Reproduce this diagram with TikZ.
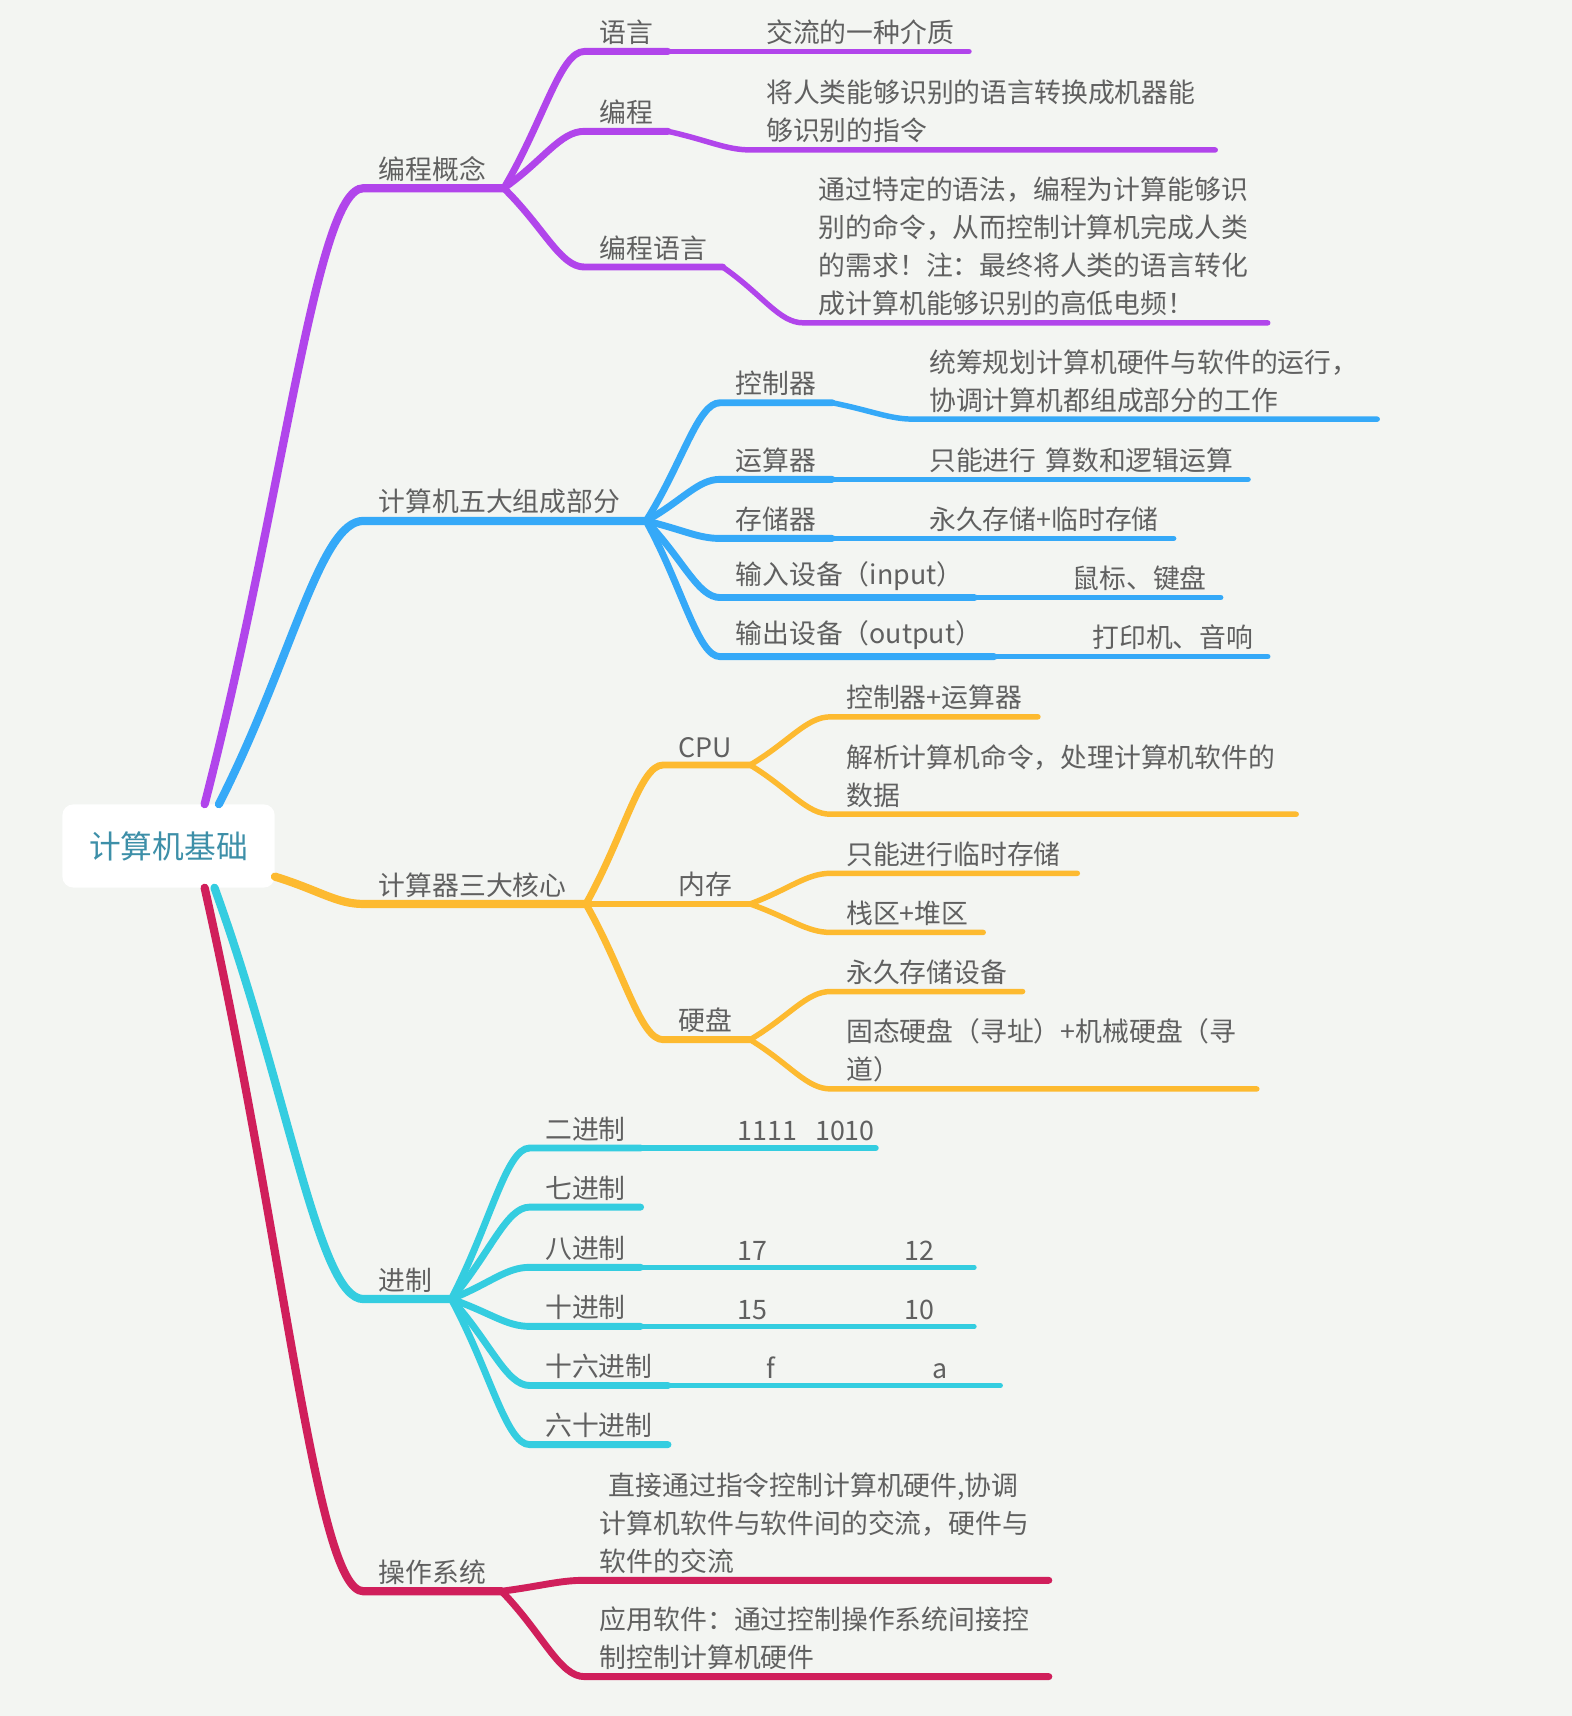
\documentclass[tikz,border=0pt]{standalone}
\usepackage{fontspec}
\setmainfont{Noto Sans CJK SC}
\usepackage{tikz}
\usepackage{xcolor}
\usetikzlibrary{positioning, calc}

\definecolor{bgcol}{HTML}{F3F5F2}
\definecolor{txtgray}{HTML}{606060}
\definecolor{rootteal}{HTML}{3D8FA8}
\definecolor{cpurple}{HTML}{B145EB}
\definecolor{cblue}{HTML}{35A9F8}
\definecolor{corange}{HTML}{FDBA30}
\definecolor{ccyan}{HTML}{34CDE0}
\definecolor{cred}{HTML}{D01F5B}

\tikzset{
    root/.style={fill=white, rounded corners=10pt, minimum width=194pt, minimum height=76pt, inner sep=0pt, text=rootteal, font=\fontsize{29pt}{29pt}\selectfont},
    topic/.style={anchor=south west, inner xsep=14pt, inner ysep=6pt, align=left, text=txtgray, text width=#1, font=\fontsize{24.5pt}{34.7pt}\selectfont},
    lv1/.style={line width=7.5pt, line cap=round},
    lv2/.style={line width=6.3pt, line cap=round},
    lv3/.style={line width=5pt, line cap=round},
    lv4/.style={line width=4pt, line cap=round},
    link/.style={to path={.. controls ($(\tikztostart)!0.5!(\tikztotarget)$) and ($(\tikztotarget)!0.3!(\tikztostart|-\tikztotarget)$) .. (\tikztotarget) \tikztonodes}}
}

\begin{document}
\begin{tikzpicture}[x=1pt, y=-1pt]
            \useasboundingbox (0,0) rectangle (1436,1568);
            \fill[bgcol] (0,0) rectangle (1436,1568);

            % root
            \node[root] (root) at (154,773) {计算机基础};

            % 编程概念
            \node[topic=100pt] (gc) at (332,172) {编程概念};
            \node[topic=48pt] (yy) at (534,47) {语言};
            \node[topic=48pt] (bc) at (534,120) {编程};
            \node[topic=98pt] (bcyy) at (534,244) {编程语言};
            \node[topic=171pt] (yy1) at (686,47) {交流的一种介质};
            \node[topic=396pt] (bc1) at (686,137) {将人类能够识别的语言转换成机器能\\够识别的指令};
            \node[topic=396pt] (bcyy1) at (734,295) {通过特定的语法，编程为计算能够识\\别的命令，从而控制计算机完成人类\\的需求！注：最终将人类的语言转化\\成计算机能够识别的高低电频！};

            % 计算机五大组成部分
            \node[topic=230pt] (wd) at (332,476) {计算机五大组成部分};
            \node[topic=74pt] (kzq) at (658,368) {控制器};
            \node[topic=74pt] (ysq) at (658,438) {运算器};
            \node[topic=74pt] (ccq) at (658,492) {存储器};
            \node[topic=204pt] (sr) at (658,546) {输入设备（input）};
            \node[topic=222pt] (sc) at (658,600) {输出设备（output）};
            \node[topic=395pt] (kzq1) at (835,383) {统筹规划计算机硬件与软件的运行，\\协调计算机都组成部分的工作};
            \node[topic=277pt] (ysq1) at (835,438) {只能进行~算数和逻辑运算};
            \node[topic=209pt] (ccq1) at (835,492) {永久存储+临时存储};
            \node[topic=121pt] (sr1) at (966,546) {鼠标、键盘};
            \node[topic=146pt] (sc1) at (984,600) {打印机、音响};

            % 计算器三大核心
            \node[topic=175pt] (hx) at (332,826) {计算器三大核心};
            \node[topic=51pt] (cpu) at (606,699) {CPU};
            \node[topic=51pt] (nc) at (606,826) {内存};
            \node[topic=51pt] (yp) at (606,950) {硬盘};
            \node[topic=161pt] (cpu1) at (759,655) {控制器+运算器};
            \node[topic=397pt] (cpu2) at (759,744) {解析计算机命令，处理计算机软件的\\数据};
            \node[topic=197pt] (nc1) at (759,798) {只能进行临时存储};
            \node[topic=111pt] (nc2) at (759,852) {栈区+堆区};
            \node[topic=147pt] (yp1) at (759,906) {永久存储设备};
            \node[topic=361pt] (yp2) at (759,995) {固态硬盘（寻址）+机械硬盘（寻\\道）};

            % 进制
            \node[topic=52pt] (jz) at (332,1187) {进制};
            \node[topic=73pt] (ejz) at (484,1049) {二进制};
            \node[topic=73pt] (qjz) at (484,1103) {七进制};
            \node[topic=73pt] (bjz) at (484,1158) {八进制};
            \node[topic=73pt] (sjz) at (484,1212) {十进制};
            \node[topic=98pt] (sljz) at (484,1266) {十六进制};
            \node[topic=98pt] (lsjz) at (484,1320) {六十进制};
            \node[topic=112pt] (ejz1) at (660,1049) {1111~~1010};
            \node[topic=50pt] (bjz1) at (660,1158) {17};
            \node[topic=50pt] (bjz2) at (812,1158) {12};
            \node[topic=50pt] (sjz1) at (660,1212) {15};
            \node[topic=50pt] (sjz2) at (812,1212) {10};
            \node[topic=48pt] (sljz1) at (686,1266) {f};
            \node[topic=48pt] (sljz2) at (838,1266) {a};

            % 操作系统
            \node[topic=98pt] (xt) at (332,1454) {操作系统};
            \node[topic=396pt] (xt1) at (534,1444) {\ 直接通过指令控制计算机硬件,协调\\计算机软件与软件间的交流，硬件与\\软件的交流};
            \node[topic=396pt] (xt2) at (534,1532) {应用软件：通过控制操作系统间接控\\制控制计算机硬件};

            % branches from the root
            \draw[lv1, cpurple] ([xshift=33pt]root.north) to[link] (gc.south west) -- (gc.south east);
            \draw[lv1, cblue] ([xshift=46pt]root.north) to[link] (wd.south west) -- (wd.south east);
            \draw[lv1, corange] ([yshift=-28pt]root.east) to[link] (hx.south west) -- (hx.south east);
            \draw[lv1, ccyan] ([xshift=42pt]root.south) to[link] (jz.south west) -- (jz.south east);
            \draw[lv1, cred] ([xshift=33pt]root.south) to[link] (xt.south west) -- (xt.south east);

            \draw[lv2, cpurple] (gc.south east) to[link] (yy.south west) -- (yy.south east);
            \draw[lv2, cpurple] (gc.south east) to[link] (bc.south west) -- (bc.south east);
            \draw[lv2, cpurple] (gc.south east) to[link] (bcyy.south west) -- (bcyy.south east);
            \draw[lv3, cpurple] (yy.south east) to[link] (yy1.south west) -- (yy1.south east);
            \draw[lv3, cpurple] (bc.south east) to[link] (bc1.south west) -- (bc1.south east);
            \draw[lv3, cpurple] (bcyy.south east) to[link] (bcyy1.south west) -- (bcyy1.south east);

            \draw[lv2, cblue] (wd.south east) to[link] (kzq.south west) -- (kzq.south east);
            \draw[lv2, cblue] (wd.south east) to[link] (ysq.south west) -- (ysq.south east);
            \draw[lv2, cblue] (wd.south east) to[link] (ccq.south west) -- (ccq.south east);
            \draw[lv2, cblue] (wd.south east) to[link] (sr.south west) -- (sr.south east);
            \draw[lv2, cblue] (wd.south east) to[link] (sc.south west) -- (sc.south east);
            \draw[lv3, cblue] (kzq.south east) to[link] (kzq1.south west) -- (kzq1.south east);
            \draw[lv3, cblue] (ysq.south east) to[link] (ysq1.south west) -- (ysq1.south east);
            \draw[lv3, cblue] (ccq.south east) to[link] (ccq1.south west) -- (ccq1.south east);
            \draw[lv3, cblue] (sr.south east) to[link] (sr1.south west) -- (sr1.south east);
            \draw[lv3, cblue] (sc.south east) to[link] (sc1.south west) -- (sc1.south east);

            \draw[lv2, corange] (hx.south east) to[link] (cpu.south west) -- (cpu.south east);
            \draw[lv2, corange] (hx.south east) to[link] (nc.south west) -- (nc.south east);
            \draw[lv2, corange] (hx.south east) to[link] (yp.south west) -- (yp.south east);
            \draw[lv3, corange] (cpu.south east) to[link] (cpu1.south west) -- (cpu1.south east);
            \draw[lv3, corange] (cpu.south east) to[link] (cpu2.south west) -- (cpu2.south east);
            \draw[lv3, corange] (nc.south east) to[link] (nc1.south west) -- (nc1.south east);
            \draw[lv3, corange] (nc.south east) to[link] (nc2.south west) -- (nc2.south east);
            \draw[lv3, corange] (yp.south east) to[link] (yp1.south west) -- (yp1.south east);
            \draw[lv3, corange] (yp.south east) to[link] (yp2.south west) -- (yp2.south east);

            \draw[lv2, ccyan] (jz.south east) to[link] (ejz.south west) -- (ejz.south east);
            \draw[lv2, ccyan] (jz.south east) to[link] (qjz.south west) -- (qjz.south east);
            \draw[lv2, ccyan] (jz.south east) to[link] (bjz.south west) -- (bjz.south east);
            \draw[lv2, ccyan] (jz.south east) to[link] (sjz.south west) -- (sjz.south east);
            \draw[lv2, ccyan] (jz.south east) to[link] (sljz.south west) -- (sljz.south east);
            \draw[lv2, ccyan] (jz.south east) to[link] (lsjz.south west) -- (lsjz.south east);
            \draw[lv3, ccyan] (ejz.south east) to[link] (ejz1.south west) -- (ejz1.south east);
            \draw[lv3, ccyan] (bjz.south east) to[link] (bjz1.south west) -- (bjz1.south east);
            \draw[lv4, ccyan] (bjz1.south east) to[link] (bjz2.south west) -- (bjz2.south east);
            \draw[lv3, ccyan] (sjz.south east) to[link] (sjz1.south west) -- (sjz1.south east);
            \draw[lv4, ccyan] (sjz1.south east) to[link] (sjz2.south west) -- (sjz2.south east);
            \draw[lv3, ccyan] (sljz.south east) to[link] (sljz1.south west) -- (sljz1.south east);
            \draw[lv4, ccyan] (sljz1.south east) to[link] (sljz2.south west) -- (sljz2.south east);

            \draw[lv2, cred] (xt.south east) to[link] (xt1.south west) -- (xt1.south east);
            \draw[lv2, cred] (xt.south east) to[link] (xt2.south west) -- (xt2.south east);
\end{tikzpicture}
\end{document}
